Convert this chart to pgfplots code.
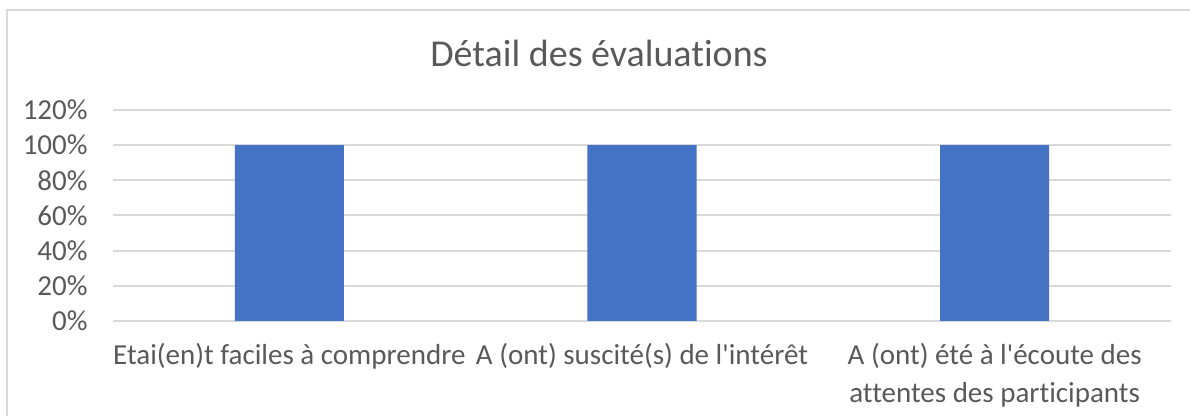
\documentclass[border=0pt]{standalone}
\usepackage{fontspec}
\setmainfont{Carlito}[Ligatures={TeXOff,CommonOff}]
\usepackage{pgfplots}
\pgfplotsset{compat=1.18}
\definecolor{txt}{HTML}{595959}
\definecolor{gridc}{HTML}{D9D9D9}
\definecolor{framec}{HTML}{D9D9D9}
\definecolor{barc}{HTML}{4472C4}
\begin{document}
\begin{tikzpicture}
\path[use as bounding box] (0,0) rectangle (595pt,208pt);
\draw[color=framec, line width=1pt] (3.5pt,-5pt) -- (3.5pt,203pt) -- (600pt,203pt);
\node[text=txt, font=\fontsize{19}{23}\selectfont] at (299.5pt,181.5pt) {Détail des évaluations};
\begin{axis}[
  at={(56.5pt,47.5pt)}, anchor=south west,
  scale only axis, width=529pt, height=105.5pt,
  xmin=-0.5, xmax=2.5, ymin=0, ymax=120,
  ytick={0,20,40,60,80,100,120},
  yticklabels={0\%,20\%,40\%,60\%,80\%,100\%,120\%},
  xtick=data,
  xticklabels={{Etai(en)t faciles à comprendre},{A (ont) suscité(s) de l'intérêt},{A (ont) été à l'écoute des\\[1.5pt]attentes des participants}},
  ymajorgrids, grid style={color=gridc, line width=1pt},
  axis line style={draw=none},
  major tick length=0pt,
  yticklabel style={font=\fontsize{14.5}{17}\selectfont, text=txt, anchor=east, inner sep=0pt, xshift=-12.5pt},
  xticklabel style={font=\fontsize{14.5}{17.5}\selectfont, text=txt, align=center, anchor=north, inner sep=0pt, yshift=-11pt},
  ybar, bar width=54.5pt,
]
\addplot[fill=barc, draw=none] coordinates {(0,100) (1,100) (2,100)};
\end{axis}
\end{tikzpicture}
\end{document}
